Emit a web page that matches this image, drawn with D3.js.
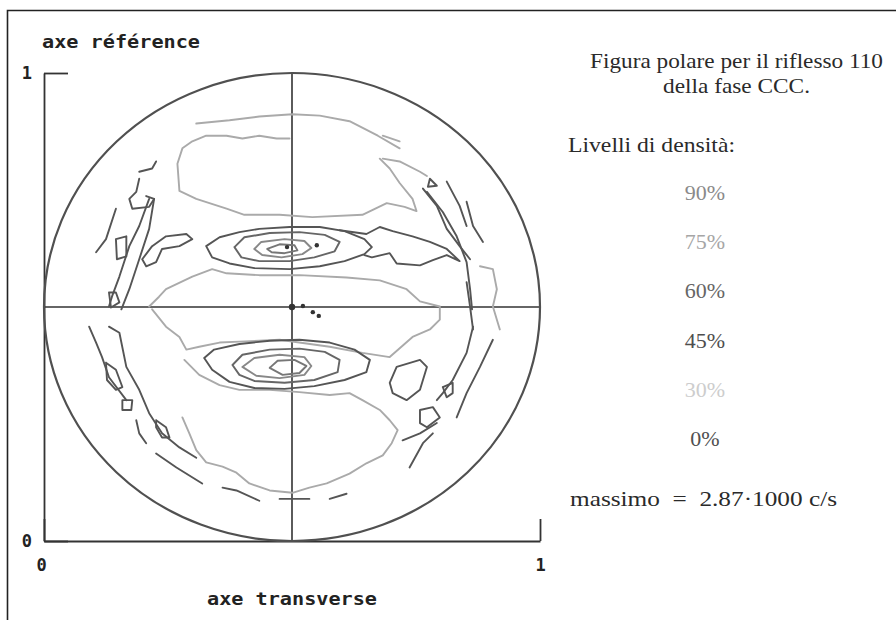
<!DOCTYPE html>
<html><head><meta charset="utf-8">
<script src="https://cdn.jsdelivr.net/npm/d3@7"></script>
<style>
html,body{margin:0;padding:0;background:#fff;}
svg{display:block;}
</style>
</head><body>
<svg id="chart" width="896" height="620"></svg>
<script>
// ---- data (pole figure coordinates, 0..1 on both axes) ----
const axisTicks = [0, 1];
const tickLabels = ["0", "1"];
const levelLabels = ["90%", "75%", "60%", "45%", "30%", "0%"];
const maxText = "massimo  =  2.87\u00B71000 c/s";

const contours30 = [
  [[0.495,0.860],[0.469,0.860],[0.434,0.866],[0.400,0.860],[0.368,0.866],[0.327,0.866],[0.299,0.854],[0.279,0.839],[0.269,0.806],[0.273,0.748],[0.307,0.731],[0.368,0.710],[0.404,0.697],[0.475,0.697],[0.541,0.692],[0.642,0.697],[0.691,0.722],[0.727,0.714],[0.751,0.705],[0.743,0.731],[0.717,0.765],[0.697,0.796],[0.677,0.817]],
  [[0.307,0.892],[0.374,0.899],[0.434,0.907],[0.501,0.912],[0.556,0.909],[0.616,0.897],[0.673,0.866],[0.717,0.839]],
  [[0.212,0.501],[0.232,0.522],[0.246,0.538],[0.299,0.565],[0.339,0.581],[0.368,0.572],[0.434,0.568],[0.515,0.568],[0.610,0.563],[0.677,0.557],[0.731,0.538],[0.758,0.512],[0.798,0.501]],
  [[0.218,0.495],[0.246,0.458],[0.273,0.436],[0.287,0.409],[0.313,0.415],[0.354,0.424],[0.394,0.426],[0.475,0.430],[0.576,0.415],[0.642,0.402],[0.697,0.393],[0.743,0.436],[0.778,0.452],[0.798,0.473],[0.798,0.499]],
  [[0.279,0.264],[0.293,0.230],[0.307,0.194],[0.327,0.168],[0.360,0.159],[0.388,0.146],[0.414,0.123],[0.455,0.108],[0.501,0.103],[0.535,0.114],[0.570,0.123],[0.616,0.144],[0.650,0.166],[0.683,0.183],[0.701,0.209],[0.713,0.237],[0.697,0.258],[0.677,0.280],[0.642,0.301],[0.616,0.316],[0.576,0.312],[0.515,0.318],[0.455,0.323],[0.394,0.323],[0.354,0.333],[0.313,0.355],[0.283,0.387]],
  [[0.879,0.587],[0.905,0.581],[0.913,0.538],[0.905,0.501],[0.919,0.452]],
  [[0.683,0.817],[0.717,0.811],[0.758,0.789],[0.772,0.780]],
  [[0.683,0.866],[0.717,0.854]]
];

const contours45 = [
  [[0.327,0.630],[0.354,0.649],[0.394,0.660],[0.434,0.667],[0.495,0.671],[0.556,0.671],[0.606,0.662],[0.646,0.645],[0.661,0.628],[0.646,0.613],[0.606,0.598],[0.556,0.587],[0.495,0.581],[0.424,0.583],[0.374,0.593],[0.339,0.606],[0.327,0.630]],
  [[0.596,0.664],[0.650,0.656],[0.677,0.671],[0.703,0.662],[0.743,0.651],[0.778,0.639],[0.812,0.624],[0.838,0.598],[0.812,0.611],[0.784,0.600],[0.758,0.589],[0.711,0.593],[0.697,0.615],[0.661,0.606],[0.646,0.611]],
  [[0.323,0.391],[0.343,0.409],[0.394,0.421],[0.455,0.428],[0.515,0.430],[0.576,0.424],[0.626,0.409],[0.657,0.387],[0.650,0.361],[0.606,0.344],[0.545,0.331],[0.485,0.325],[0.424,0.327],[0.374,0.340],[0.339,0.366],[0.323,0.391]],
  [[0.198,0.602],[0.218,0.630],[0.246,0.651],[0.287,0.656],[0.299,0.645],[0.273,0.630],[0.238,0.624],[0.226,0.596],[0.206,0.587],[0.198,0.602]],
  [[0.212,0.731],[0.192,0.673],[0.172,0.630],[0.152,0.565],[0.137,0.522],[0.131,0.501]],
  [[0.222,0.731],[0.212,0.667],[0.192,0.602],[0.172,0.538],[0.156,0.495]],
  [[0.131,0.531],[0.145,0.531],[0.152,0.510],[0.135,0.499],[0.131,0.531]],
  [[0.145,0.710],[0.125,0.645],[0.105,0.617]],
  [[0.192,0.774],[0.186,0.746],[0.172,0.731],[0.178,0.710],[0.212,0.714],[0.222,0.731],[0.206,0.737]],
  [[0.226,0.811],[0.218,0.796],[0.192,0.789]],
  [[0.145,0.645],[0.166,0.651],[0.166,0.608],[0.147,0.602],[0.145,0.645]],
  [[0.131,0.458],[0.152,0.445],[0.166,0.372],[0.192,0.323],[0.212,0.273],[0.238,0.230],[0.273,0.200],[0.307,0.178]],
  [[0.091,0.458],[0.105,0.424],[0.117,0.393],[0.131,0.350],[0.166,0.301]],
  [[0.125,0.381],[0.145,0.366],[0.158,0.329],[0.145,0.323],[0.127,0.344],[0.125,0.381]],
  [[0.158,0.301],[0.178,0.301],[0.176,0.280],[0.158,0.280],[0.158,0.301]],
  [[0.226,0.258],[0.246,0.243],[0.253,0.221],[0.238,0.221],[0.226,0.243],[0.226,0.258]],
  [[0.186,0.258],[0.192,0.230],[0.206,0.209]],
  [[0.226,0.187],[0.267,0.157],[0.319,0.123]],
  [[0.764,0.753],[0.792,0.716],[0.812,0.667],[0.838,0.630],[0.859,0.602]],
  [[0.772,0.746],[0.804,0.703],[0.832,0.651],[0.852,0.596],[0.859,0.538],[0.863,0.495]],
  [[0.812,0.768],[0.838,0.716],[0.852,0.673]],
  [[0.852,0.725],[0.865,0.673],[0.885,0.639]],
  [[0.778,0.774],[0.792,0.759],[0.774,0.757],[0.778,0.774]],
  [[0.852,0.553],[0.859,0.501],[0.865,0.452]],
  [[0.865,0.458],[0.852,0.402],[0.824,0.344],[0.804,0.316],[0.792,0.301]],
  [[0.905,0.430],[0.879,0.372],[0.852,0.316],[0.832,0.264]],
  [[0.804,0.329],[0.824,0.338],[0.824,0.316],[0.812,0.307],[0.804,0.329]],
  [[0.758,0.280],[0.784,0.286],[0.798,0.264],[0.772,0.243],[0.758,0.252],[0.758,0.280]],
  [[0.723,0.215],[0.758,0.230],[0.792,0.252]],
  [[0.737,0.157],[0.764,0.209],[0.784,0.230]],
  [[0.697,0.338],[0.711,0.372],[0.758,0.387],[0.772,0.372],[0.758,0.323],[0.731,0.301],[0.703,0.316],[0.697,0.338]],
  [[0.475,0.090],[0.535,0.090]],
  [[0.576,0.090],[0.610,0.101]],
  [[0.360,0.114],[0.388,0.108],[0.434,0.086]]
];

const contours60 = [
  [[0.384,0.628],[0.404,0.649],[0.455,0.658],[0.515,0.660],[0.566,0.654],[0.596,0.639],[0.586,0.619],[0.545,0.606],[0.495,0.598],[0.434,0.598],[0.398,0.606],[0.384,0.628]],
  [[0.380,0.376],[0.400,0.398],[0.455,0.409],[0.515,0.411],[0.566,0.404],[0.596,0.387],[0.592,0.361],[0.545,0.344],[0.485,0.338],[0.424,0.342],[0.394,0.355],[0.380,0.376]]
];

const contours75 = [
  [[0.424,0.624],[0.438,0.639],[0.485,0.645],[0.525,0.641],[0.539,0.626],[0.521,0.613],[0.479,0.606],[0.440,0.611],[0.424,0.624]],
  [[0.400,0.372],[0.424,0.391],[0.475,0.398],[0.525,0.393],[0.539,0.374],[0.525,0.355],[0.475,0.348],[0.428,0.353],[0.400,0.372]]
];

const contours90 = [
  [[0.450,0.624],[0.475,0.634],[0.505,0.632],[0.511,0.621],[0.485,0.615],[0.459,0.617],[0.450,0.624]],
  [[0.455,0.370],[0.471,0.385],[0.505,0.387],[0.529,0.374],[0.515,0.359],[0.481,0.355],[0.455,0.370]]
];

const markers = [[0.500,0.500],[0.522,0.502],[0.542,0.489],[0.554,0.481],[0.490,0.628],[0.550,0.632]];

// ---- styles ----
const levelColors = {"90%":"#8a8a8a","75%":"#a6a6a6","60%":"#666","45%":"#4e4e4e","30%":"#cdcdcd","0%":"#505050"};
const lineColors = {"30%":"#aaaaaa","45%":"#555555","60%":"#666666","75%":"#888888","90%":"#777777"};

const svg = d3.select("#chart");
const x = d3.scaleLinear().domain([0,1]).range([44,540]);
const y = d3.scaleLinear().domain([0,1]).range([541,73]);

// outer frame
svg.append("path").attr("d","M7.5,630V10.5H900").attr("fill","none").attr("stroke","#222").attr("stroke-width",1.6);

// axes
const mono = "'DejaVu Sans Mono', 'Liberation Mono', monospace";
const gL = svg.append("g").attr("transform",`translate(${x(0)},0)`)
  .call(d3.axisLeft(y).tickValues(axisTicks).tickFormat((d,i)=>tickLabels[i]).tickSize(-24).tickSizeOuter(0).tickPadding(12));
const gB = svg.append("g").attr("transform",`translate(0,${y(0)})`)
  .call(d3.axisBottom(x).tickValues(axisTicks).tickFormat((d,i)=>tickLabels[i]).tickSize(-22).tickSizeOuter(0).tickPadding(18));
[gL,gB].forEach(g=>{
  g.selectAll("path,line").attr("stroke","#333").attr("stroke-width",1.8);
  g.selectAll("text").attr("font-family",mono).attr("font-weight","bold").attr("font-size",17).attr("fill","#222");
});
gB.selectAll(".tick text").attr("dx",(d)=> d===0 ? -3 : 0);

// crosshair
svg.append("line").attr("x1",x(0)).attr("x2",x(1)).attr("y1",y(0.5)).attr("y2",y(0.5)).attr("stroke","#333").attr("stroke-width",1.6);
svg.append("line").attr("x1",x(0.5)).attr("x2",x(0.5)).attr("y1",y(1)).attr("y2",y(0)).attr("stroke","#333").attr("stroke-width",1.6);

// outer circle (0% level)
svg.append("ellipse").attr("cx",x(0.5)).attr("cy",y(0.5)).attr("rx",x(1)-x(0.5)).attr("ry",y(0)-y(0.5))
  .attr("fill","none").attr("stroke",levelColors["0%"]).attr("stroke-width",2.2);

// contours
const line = d3.line().x(d=>x(d[0])).y(d=>y(d[1]));
const sets = [["30%",contours30],["45%",contours45],["60%",contours60],["75%",contours75],["90%",contours90]];
sets.forEach(([lvl,arr])=>{
  svg.append("g").selectAll("path").data(arr).join("path")
    .attr("d",line).attr("fill","none").attr("stroke",lineColors[lvl])
    .attr("stroke-width",1.9).attr("stroke-linejoin","round").attr("stroke-linecap","round");
});

svg.append("g").selectAll("circle").data(markers).join("circle")
  .attr("cx",d=>x(d[0])).attr("cy",d=>y(d[1])).attr("r",(d,i)=> i===0?3.2:2.2).attr("fill","#333");

// axis titles
svg.append("text").attr("x",42).attr("y",48).attr("font-family",mono).attr("font-weight","bold")
  .attr("font-size",18).attr("fill","#222").attr("textLength",158).attr("lengthAdjust","spacingAndGlyphs").text("axe r\u00E9f\u00E9rence");
svg.append("text").attr("x",207).attr("y",605).attr("font-family",mono).attr("font-weight","bold")
  .attr("font-size",18).attr("fill","#222").attr("textLength",170).attr("lengthAdjust","spacingAndGlyphs").text("axe transverse");

// right-hand texts
const serif = "'Liberation Serif','DejaVu Serif',serif";
function rt(str,x0,yb,len,fill,anchor){
  const t = svg.append("text").attr("x",x0).attr("y",yb).attr("font-family",serif).attr("font-size",22)
    .attr("fill",fill).attr("text-anchor",anchor||"start").style("white-space","pre").text(str);
  if(len) t.attr("textLength",len).attr("lengthAdjust","spacingAndGlyphs");
  return t;
}
rt("Figura polare per il riflesso 110",590,68,293,"#2a2a2a");
rt("della fase CCC.",663,93,147,"#2a2a2a");
rt("Livelli di densit\u00E0:",568,152,167,"#2a2a2a");
const legendY = d3.scalePoint().domain(levelLabels).range([200,446]);
levelLabels.forEach(l=>{
  svg.append("text").attr("x",705).attr("y",legendY(l)).attr("text-anchor","middle")
    .attr("font-family",serif).attr("font-size",22).attr("fill",levelColors[l]).text(l);
});
rt(maxText,570,506,267,"#2a2a2a");
</script>
</body></html>
